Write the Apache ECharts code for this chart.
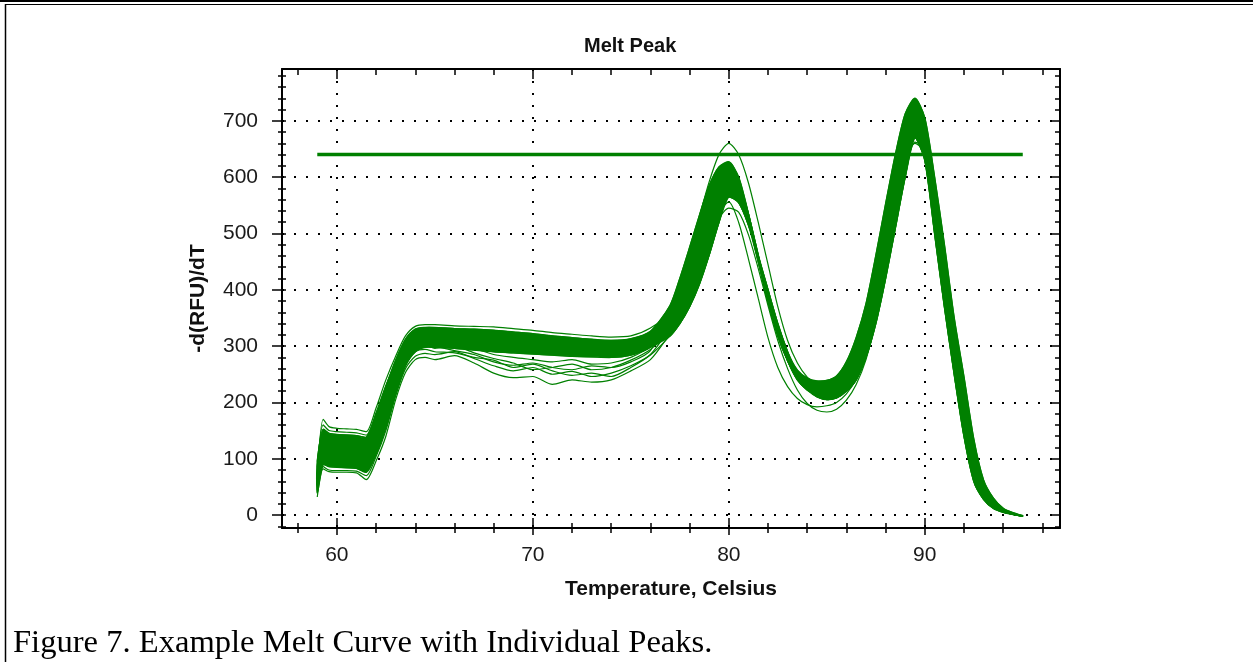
<!DOCTYPE html>
<html><head><meta charset="utf-8">
<script src="https://cdn.jsdelivr.net/npm/echarts@6/dist/echarts.min.js"></script>
<style>html,body{margin:0;padding:0;background:#fff;} #chart{width:1253px;height:662px;}</style>
</head><body><div id="chart"></div>
<script>
// ---------------- data ----------------
const temperatures = [59.0, 59.3, 59.6, 60, 60.5, 61, 61.5, 62, 62.5, 63, 63.5, 64, 64.5, 65, 66, 67, 68, 69, 70, 71, 72, 73, 74, 75, 76,
  77, 77.5, 78, 78.5, 79, 79.5, 80, 80.5, 81, 81.5, 82, 82.5, 83, 83.5, 84, 84.5, 85, 85.5, 86, 86.5, 87, 87.5, 88, 88.5, 89, 89.5, 90, 90.5, 91, 91.5, 92, 92.5, 93, 93.5, 94, 94.5, 95];

// left part of each well (59 .. 76 C)
const leftTop = [70, 170, 157, 154, 153, 152, 148, 190, 240, 282, 318, 335, 338, 338, 336, 335, 334, 331, 328, 324, 321, 318, 316, 318, 332];
const left2   = [95, 152, 145, 143, 142, 141, 138, 178, 228, 275, 312, 330, 333, 333, 331, 330, 328, 325, 322, 318, 315, 312, 310, 313, 326];
const left3   = [55, 135, 128, 126, 125, 124, 120, 160, 210, 262, 302, 322, 326, 326, 324, 322, 319, 315, 311, 308, 305, 302, 300, 303, 318];
const left4   = [60, 120, 113, 112, 111, 110, 104, 142, 190, 245, 290, 310, 316, 317, 316, 314, 311, 307, 303, 300, 298, 296, 294, 297, 310];
const left5   = [45, 102, 98, 96, 95, 94, 88, 122, 170, 228, 276, 300, 307, 308, 307, 304, 300, 296, 293, 291, 289, 287, 285, 289, 303];
const left6   = [40, 90, 86, 85, 84, 83, 76, 108, 155, 215, 265, 290, 298, 298, 296, 293, 290, 288, 286, 284, 282, 281, 280, 284, 298];
const left7   = [32, 82, 77, 76, 76, 75, 63, 96, 140, 205, 253, 276, 280, 276, 283, 270, 252, 244, 246, 232, 240, 236, 240, 256, 276];
const left8   = [38, 86, 80, 79, 79, 78, 70, 104, 150, 212, 260, 282, 287, 285, 290, 278, 265, 256, 262, 250, 255, 246, 252, 265, 284];
const left9   = [85, 160, 150, 148, 147, 146, 142, 182, 230, 270, 300, 312, 306, 300, 292, 285, 272, 266, 270, 262, 258, 265, 262, 272, 292];
const left10  = [65, 110, 104, 103, 102, 101, 95, 135, 185, 240, 282, 300, 302, 296, 300, 288, 278, 270, 258, 262, 268, 258, 262, 275, 294];
const left11  = [50, 96, 92, 90, 90, 89, 82, 115, 165, 225, 270, 290, 294, 290, 288, 280, 275, 262, 268, 256, 248, 252, 246, 262, 285];
const left12  = [75, 140, 133, 132, 131, 130, 126, 168, 218, 268, 305, 322, 318, 310, 304, 296, 285, 280, 276, 272, 276, 268, 270, 280, 300];

// right part of each well (77 .. 95 C)
const rightHigh    = [372, 420, 475, 532, 585, 618, 627, 600, 535, 460, 388, 328, 285, 257, 243, 238, 239, 247, 272, 315, 375, 460, 552, 640, 712, 740, 705, 600, 480, 350, 245, 135, 62, 30, 12, 4, -1];
const rightMidHigh = [360, 402, 452, 508, 562, 600, 612, 592, 535, 462, 390, 328, 282, 252, 236, 229, 229, 237, 258, 294, 350, 432, 528, 615, 692, 728, 688, 575, 452, 325, 218, 115, 53, 26, 10, 3, -2];
const rightMid     = [345, 380, 425, 472, 528, 575, 600, 580, 522, 450, 378, 318, 274, 244, 228, 220, 220, 228, 245, 275, 325, 400, 495, 580, 662, 712, 668, 550, 425, 300, 190, 95, 44, 20, 8, 2, -2];
const rightMidLow  = [332, 362, 400, 448, 500, 550, 583, 570, 520, 455, 385, 322, 274, 240, 222, 213, 212, 218, 232, 258, 302, 372, 460, 548, 632, 695, 650, 525, 398, 275, 165, 78, 36, 16, 6, 1, -2];
const rightLow     = [318, 340, 370, 410, 462, 520, 565, 555, 515, 460, 400, 340, 290, 250, 225, 210, 205, 208, 220, 240, 280, 340, 420, 510, 600, 670, 630, 500, 370, 250, 140, 60, 28, 12, 5, 1, -2];
const rightPeakHi  = [368, 412, 468, 530, 592, 640, 660, 640, 590, 520, 445, 370, 310, 270, 245, 232, 228, 234, 252, 282, 332, 405, 492, 570, 630, 660, 645, 545, 425, 305, 195, 100, 46, 21, 8, 2, -2];
const rightPeakLo  = [326, 352, 390, 440, 492, 537, 556, 520, 455, 385, 315, 262, 228, 207, 196, 192, 194, 200, 215, 242, 286, 355, 446, 534, 612, 662, 650, 540, 420, 298, 188, 92, 42, 19, 7, 1, -2];
const rightTroughLo= [322, 348, 385, 432, 482, 527, 545, 538, 498, 438, 372, 310, 260, 222, 198, 186, 183, 188, 204, 232, 276, 345, 438, 530, 618, 682, 672, 575, 455, 330, 220, 118, 55, 27, 10, 3, -2];

const thresholdValue = 640;
const thresholdRange = [59, 95];

const xMajorTicks = [60, 70, 80, 90];
const xMinorTicks = [58, 60, 62, 64, 66, 68, 70, 72, 74, 76, 78, 80, 82, 84, 86, 88, 90, 92, 94, 96];
const yMajorTicks = [0, 100, 200, 300, 400, 500, 600, 700];
const yMinorTicks = [-20, 0, 20, 40, 60, 80, 100, 120, 140, 160, 180, 200, 220, 240, 260, 280, 300, 320, 340, 360, 380,
  400, 420, 440, 460, 480, 500, 520, 540, 560, 580, 600, 620, 640, 660, 680, 700, 720, 740, 760, 780];

const titleText = 'Melt Peak';
const xName = 'Temperature, Celsius';
const yName = '-d(RFU)/dT';
const captionText = 'Figure 7. Example Melt Curve with Individual Peaks.';

// ---------------- assemble ----------------
const wells = [
  leftTop.concat(rightMidHigh),
  left2.concat(rightHigh),
  left3.concat(rightMidLow),
  left4.concat(rightMid),
  left5.concat(rightLow),
  left6.concat(rightMidHigh),
  left7.concat(rightTroughLo),
  left8.concat(rightLow),
  left9.concat(rightPeakHi),
  left10.concat(rightPeakLo),
  left11.concat(rightMidLow),
  left12.concat(rightMid)
];
const coreWells = wells.slice(1, 6);
const bandLow = temperatures.map((t, i) => Math.min.apply(null, coreWells.map(w => w[i])));
const bandHigh = temperatures.map((t, i) => Math.max.apply(null, coreWells.map(w => w[i])));

const GREEN = '#008000';
const FONT = '"Liberation Sans", Arial, sans-serif';
const xMin = 57.2, xMax = 96.9, yMin = -23, yMax = 792;

function hiddenX(pos, ticks, inside, len) {
  return {type: 'value', position: pos, min: xMin, max: xMax,
    axisLine: {show: false, onZero: false}, axisLabel: {show: false},
    splitLine: {show: false},
    axisTick: {show: true, inside: inside, length: len, customValues: ticks, lineStyle: {color: '#000', width: 1.5}}};
}
function hiddenY(pos, ticks, inside, len) {
  return {type: 'value', position: pos, min: yMin, max: yMax,
    axisLine: {show: false, onZero: false}, axisLabel: {show: false},
    splitLine: {show: false},
    axisTick: {show: true, inside: inside, length: len, customValues: ticks, lineStyle: {color: '#000', width: 1.5}}};
}

const series = [];
series.push({
  type: 'custom', coordinateSystem: 'cartesian2d', xAxisIndex: 0, yAxisIndex: 0,
  data: [[temperatures[0], bandLow[0]]], silent: true, z: 2, clip: true,
  renderItem: function (params, api) {
    const pts = [];
    for (let i = 0; i < temperatures.length; i++) pts.push(api.coord([temperatures[i], bandHigh[i]]));
    for (let i = temperatures.length - 1; i >= 0; i--) pts.push(api.coord([temperatures[i], bandLow[i]]));
    return {type: 'polygon', shape: {points: pts, smooth: 0.25}, style: {fill: GREEN, stroke: GREEN, lineWidth: 1.5}};
  }
});
wells.forEach(function (w) {
  series.push({
    type: 'line', xAxisIndex: 0, yAxisIndex: 0, symbol: 'none', smooth: 0.25, z: 3, silent: true,
    data: temperatures.map((t, i) => [t, w[i]]),
    lineStyle: {color: GREEN, width: 1.2}
  });
});
series.push({
  type: 'line', xAxisIndex: 0, yAxisIndex: 0, symbol: 'none', z: 4, silent: true,
  data: [[thresholdRange[0], thresholdValue], [thresholdRange[1], thresholdValue]],
  lineStyle: {color: GREEN, width: 3.5}
});

const chart = echarts.init(document.getElementById('chart'), null, {renderer: 'canvas'});
chart.setOption({
  animation: false,
  backgroundColor: '#fff',
  title: {text: titleText, left: 584, top: 36, padding: 0,
    textStyle: {fontSize: 20, fontWeight: 'bold', color: '#111', fontFamily: FONT}},
  grid: {left: 282, top: 69, right: 193, bottom: 134, containLabel: false},
  xAxis: [
    {type: 'value', position: 'bottom', min: xMin, max: xMax,
      name: xName, nameLocation: 'middle', nameGap: 51,
      nameTextStyle: {fontSize: 21, fontWeight: 'bold', color: '#111', fontFamily: FONT},
      axisLine: {show: true, onZero: false, lineStyle: {color: '#000', width: 2}},
      axisTick: {show: true, inside: false, length: 7, customValues: xMajorTicks, lineStyle: {color: '#000', width: 1.5}},
      axisLabel: {show: true, customValues: xMajorTicks, margin: 17, fontSize: 21, color: '#1a1a1a', fontFamily: FONT},
      splitLine: {show: true, lineStyle: {color: '#000', width: 2, type: [2, 10]}}},
    hiddenX('bottom', xMinorTicks, false, 5),
    hiddenX('bottom', xMinorTicks, true, 5),
    hiddenX('bottom', xMajorTicks, true, 10),
    Object.assign(hiddenX('top', xMinorTicks, true, 6), {axisLine: {show: true, onZero: false, lineStyle: {color: '#000', width: 2}}}),
    hiddenX('top', xMajorTicks, true, 10)
  ],
  yAxis: [
    {type: 'value', position: 'left', min: yMin, max: yMax,
      name: yName, nameLocation: 'middle', nameGap: 73,
      nameTextStyle: {fontSize: 21, fontWeight: 'bold', color: '#111', fontFamily: FONT},
      axisLine: {show: true, onZero: false, lineStyle: {color: '#000', width: 2}},
      axisTick: {show: true, inside: false, length: 10, customValues: yMajorTicks, lineStyle: {color: '#000', width: 1.5}},
      axisLabel: {show: true, customValues: yMajorTicks, margin: 24, fontSize: 21, color: '#1a1a1a', fontFamily: FONT},
      splitLine: {show: true, lineStyle: {color: '#000', width: 2, type: [2, 10]}}},
    hiddenY('left', yMinorTicks, false, 4),
    hiddenY('left', yMinorTicks, true, 4),
    Object.assign(hiddenY('right', yMinorTicks, true, 5), {axisLine: {show: true, onZero: false, lineStyle: {color: '#000', width: 2}}}),
    hiddenY('right', yMajorTicks, true, 10)
  ],
  series: series,
  graphic: [
    {type: 'line', silent: true, shape: {x1: 0, y1: 1, x2: 1253, y2: 1}, style: {stroke: '#000', lineWidth: 2}},
    {type: 'line', silent: true, shape: {x1: 5, y1: 4.5, x2: 1253, y2: 4.5}, style: {stroke: '#000', lineWidth: 1}},
    {type: 'line', silent: true, shape: {x1: 5.5, y1: 4, x2: 5.5, y2: 662}, style: {stroke: '#000', lineWidth: 1.5}},
    {type: 'text', silent: true, left: 13, top: 627,
      style: {text: captionText, font: '32.6px "Liberation Serif", "Times New Roman", serif', fill: '#000'}}
  ]
});
</script>
</body></html>
